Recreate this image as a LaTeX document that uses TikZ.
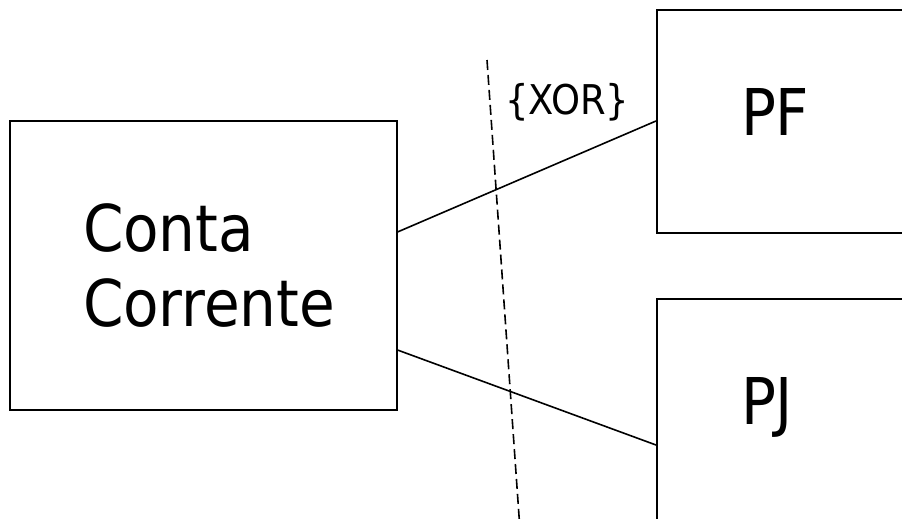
\documentclass[tikz,border=0pt]{standalone}
\usepackage{fontspec}
\setmainfont{DejaVu Sans Condensed}
\begin{document}
\begin{tikzpicture}[
    x=1pt, y=-1pt,
    classe/.style={
        rectangle,
        draw=black,
        line width=2pt,
        font=\fontsize{64.5}{75}\selectfont,
        align=left
    },
    sub/.style={
        classe,
        anchor=north west,
        inner xsep=84pt,
        inner ysep=78pt,
        text width=200pt,
        text height=47pt
    },
    assoc/.style={line width=1.6pt},
    restr/.style={line width=1.6pt, dash pattern=on 10pt off 5pt}
]

\path[use as bounding box, clip] (0,0) rectangle (902,519);

\node[classe, minimum height=289pt, inner xsep=73.5pt, text width=240pt] (conta) at (203,265.5) {Conta\\Corrente};
\node[sub, text depth=20pt] (pf) at (656,9) {PF};
\node[sub, text depth=110pt] (pj) at (656,298) {PJ};

\draw[assoc] ([yshift=33.5pt]conta.east) -- (pf.west |- 0,121);
\draw[assoc] ([yshift=-84.5pt]conta.east) -- (pj.west |- 0,445);

\coordinate (xtop) at (487,60);
\coordinate (xbot) at (520,530);
\draw[restr] (xtop) -- (xbot);
\node[anchor=base west, inner sep=0pt, font=\fontsize{41}{45}\selectfont] (xor) at (505,114) {\{XOR\}};

\end{tikzpicture}
\end{document}
